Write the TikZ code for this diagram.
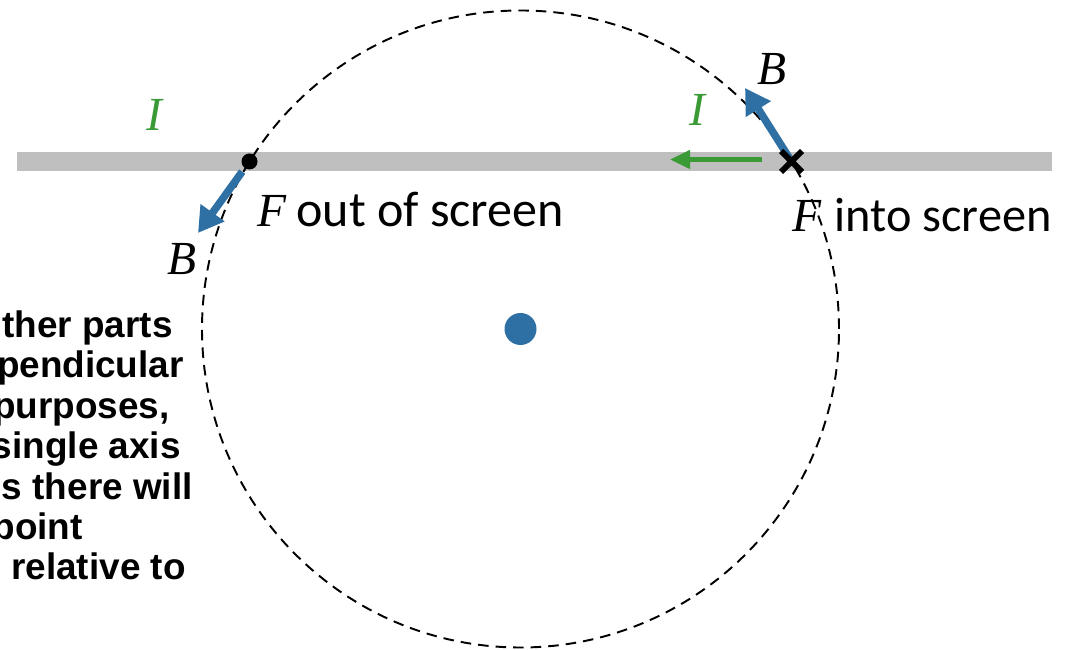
\documentclass[tikz,border=0pt]{standalone}
\usepackage{fontspec}
\usetikzlibrary{arrows.meta}
\newfontfamily\scrfont{Carlito}
\newfontfamily\lblfont{Liberation Serif}
\newfontfamily\notefont{Liberation Sans}
\definecolor{blueB}{RGB}{46,112,164}
\definecolor{greenI}{RGB}{58,154,54}
\definecolor{wire}{RGB}{191,191,191}
\begin{document}
\begin{tikzpicture}[>=stealth,
  lbl/.style={font=\lblfont\itshape\fontsize{27}{30}\selectfont, inner sep=0},
  txt/.style={font=\scrfont\fontsize{27.5}{30}\selectfont, inner sep=0, anchor=base west},
  note/.style={font=\notefont\bfseries\fontsize{21}{24}\selectfont, inner sep=0, anchor=base east},
  bvec/.style={blueB, line width=4.3pt, -{Triangle[length=0.5cm,width=0.56cm]}},
  ivec/.style={greenI, line width=2.3pt, -{Triangle[length=0.4cm,width=0.36cm]}}]
\clip (0,0) rectangle (21.34,13);
\coordinate (O) at (10.41,6.42);
\coordinate (pL) at (4.99,9.77);
\coordinate (pR) at (15.83,9.77);
\coordinate (bL) at (3.96,8.34);
\coordinate (bR) at (14.90,11.24);
\coordinate (gS) at (15.24,9.81);
\coordinate (gE) at (13.40,9.81);
\fill[wire] (0.34,9.58) rectangle (21.04,9.96);
\draw[dash pattern=on 6pt off 4pt, line width=1.1pt] (O) circle (6.37);
\fill[blueB] (O) circle (0.32);
\draw[bvec, shorten <=0.25cm] (pL) -- (bL);
\draw[bvec] (pR) -- (bR);
\draw[ivec] (gS) -- (gE);
\fill (pL) circle (0.16);
\draw[line width=3.4pt] (pR) +(-0.21,-0.21) -- +(0.21,0.21) (pR) +(-0.21,0.21) -- +(0.21,-0.21);
\node[lbl, greenI] (iL) at (3.08,10.70) {I};
\node[lbl, greenI] (iR) at (13.94,10.80) {I};
\node[lbl] (bLabR) at (15.44,11.62) {B};
\node[lbl] (bLabL) at (3.64,7.82) {B};
\node[lbl, anchor=base west] (fL) at (5.14,8.46) {F};
\node[txt, font=\scrfont\fontsize{28.5}{30}\selectfont] (outL) at (5.92,8.46) {out of screen};
\node[lbl, anchor=base west] (fR) at (15.84,8.36) {F};
\node[txt] (intoR) at (16.68,8.36) {into screen};
\foreach \i/\x/\y/\t in {1/3.46/6.24/ther parts, 2/3.68/5.44/pendicular,
  3/3.40/4.63/{purposes,}, 4/3.62/3.82/single axis, 5/3.86/3.00/s there will,
  6/1.66/2.20/point, 7/3.72/1.40/relative to}
  \node[note] (line\i) at (\x,\y) {\t};
\end{tikzpicture}
\end{document}
